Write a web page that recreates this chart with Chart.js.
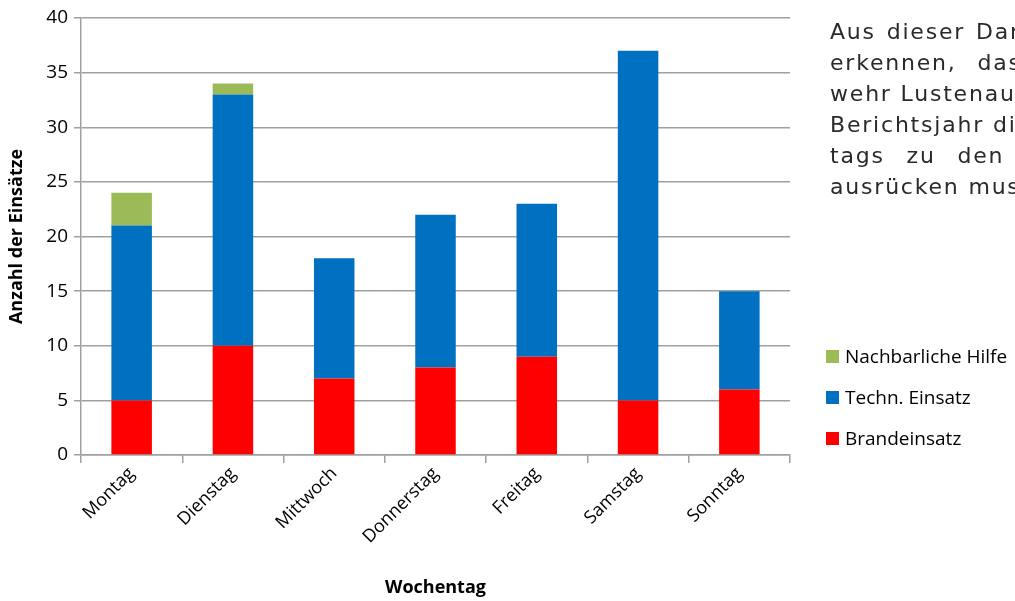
<!DOCTYPE html>
<html lang="de">
<head>
<meta charset="utf-8">
<title>Einsätze nach Wochentag</title>
<script src="https://cdn.jsdelivr.net/npm/chart.js@4"></script>
<style>
  html, body { margin: 0; padding: 0; background: #fff; overflow: hidden; }
  #wrap { position: relative; width: 1015px; height: 601px; overflow: hidden; }
  #chart { position: absolute; left: 0; top: 0; }
  .note {
    position: absolute; left: 830px; white-space: nowrap;
    font-family: "DejaVu Sans", sans-serif; font-size: 22px; color: #2a2a2a;
    letter-spacing: 1.8px; line-height: 1;
  }
  #legend { position: absolute; left: 826px; top: 343px; font-family: "Open Sans", sans-serif; font-size: 19px; color: #000; }
  #legend .item { position: relative; height: 41px; white-space: nowrap; }
  #legend .box { display: inline-block; width: 13px; height: 13px; margin-right: 6px; vertical-align: 0px; }
</style>
</head>
<body>
<div id="wrap">
  <canvas id="chart" width="1015" height="601"></canvas>
  <div id="notes"></div>
  <div id="legend"></div>
</div>
<script>
const days = ['Montag', 'Dienstag', 'Mittwoch', 'Donnerstag', 'Freitag', 'Samstag', 'Sonntag'];
const brandeinsatz = [5, 10, 7, 8, 9, 5, 6];
const technEinsatz = [16, 23, 11, 14, 14, 32, 9];
const nachbarHilfe = [3, 1, 0, 0, 0, 0, 0];
const yTicks = [0, 5, 10, 15, 20, 25, 30, 35, 40];

const noteLines = [
  'Aus dieser Darstellung ist zu',
  'erkennen, dass die Feuer-',
  'wehr Lustenau im',
  'Berichtsjahr die meisten Sams-',
  'tags zu den Einsätzen',
  'ausrücken musste.'
];

const series = [
  { label: 'Brandeinsatz', data: brandeinsatz, color: '#ff0000' },
  { label: 'Techn. Einsatz', data: technEinsatz, color: '#0070c0' },
  { label: 'Nachbarliche Hilfe', data: nachbarHilfe, color: '#9bbb59' }
];

// side text, one line per row
const spacing = [2, 12, 0, 0, 13, 0];
const notes = document.getElementById('notes');
noteLines.forEach((line, i) => {
  const d = document.createElement('div');
  d.className = 'note';
  d.style.top = (21 + i * 31) + 'px';
  d.style.wordSpacing = spacing[i] + 'px';
  d.textContent = line;
  notes.appendChild(d);
});

// legend, top to bottom in reverse stacking order
const legend = document.getElementById('legend');
series.slice().reverse().forEach(s => {
  const item = document.createElement('div');
  item.className = 'item';
  item.innerHTML = '<span class="box" style="background:' + s.color + '"></span>' + s.label;
  legend.appendChild(item);
});

const font = '"Open Sans", sans-serif';

new Chart(document.getElementById('chart'), {
  type: 'bar',
  data: {
    labels: days,
    datasets: series.map(s => ({
      label: s.label,
      data: s.data,
      backgroundColor: s.color,
      barPercentage: 0.4,
      categoryPercentage: 1.0
    }))
  },
  options: {
    responsive: false,
    animation: false,
    layout: { padding: { left: 0, right: 225, top: 18, bottom: 2 } },
    plugins: {
      legend: { display: false },
      tooltip: { enabled: false }
    },
    scales: {
      x: {
        stacked: true,
        afterFit: axis => { axis.height = 144; },
        grid: {
          offset: true,
          drawOnChartArea: false,
          color: '#a0a0a0',
          lineWidth: 1.5,
          tickLength: 8
        },
        border: { color: '#a0a0a0', width: 1.5 },
        ticks: {
          minRotation: 45,
          maxRotation: 45,
          color: '#000',
          font: { family: font, size: 18 },
          padding: 0
        },
        title: {
          display: true,
          text: 'Wochentag',
          color: '#000',
          font: { family: font, size: 18, weight: 'bold' },
          padding: { top: 0, bottom: 0 }
        }
      },
      y: {
        stacked: true,
        min: 0,
        max: 40,
        afterBuildTicks: axis => { axis.ticks = yTicks.map(v => ({ value: v })); },
        afterFit: axis => { axis.width = 81; },
        grid: {
          color: '#a0a0a0',
          lineWidth: 1.5,
          tickLength: 7
        },
        border: { color: '#a0a0a0', width: 1.5 },
        ticks: {
          color: '#000',
          font: { family: font, size: 19 },
          padding: 6
        },
        title: {
          display: true,
          text: 'Anzahl der Einsätze',
          color: '#000',
          font: { family: font, size: 18, weight: 'bold' },
          padding: { top: 6, bottom: 0 }
        }
      }
    }
  }
});
</script>
</body>
</html>
